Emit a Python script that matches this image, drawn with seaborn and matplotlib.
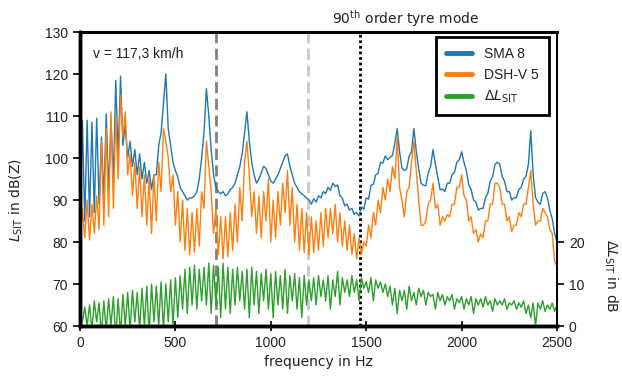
import numpy as np
import pandas as pd
import seaborn as sns
import matplotlib.pyplot as plt
from matplotlib.lines import Line2D

sns.set_style("ticks", {"axes.edgecolor": "black"})
plt.rcParams['font.family'] = ['Liberation Sans', 'DejaVu Sans']
plt.rcParams['mathtext.fontset'] = 'dejavusans'

# spectrum sampled every 12.5 Hz, 0 ... 2500 Hz (one row = 100 Hz)
freq_step = 12.5

sma8 = [
    84, 109, 85, 109, 86, 108.5, 87, 109.5,
    89, 105, 90, 110.5, 92, 109, 95, 118.5,
    100, 119.5, 103, 108, 100, 104, 98, 102,
    96, 101, 95, 99, 94, 97, 92.5, 96,
    96, 103, 106, 113, 120, 107, 103, 99,
    97, 95.5, 93, 92, 91, 90, 90.5, 90.5,
    91, 92, 95, 100, 106, 116.5, 110, 102,
    96, 93, 92, 91.5, 92, 91, 91.5, 92.5,
    93, 94, 96, 98, 101, 106, 111, 104,
    99, 96, 94, 95, 96.5, 98, 97.5, 96,
    94.5, 94, 95, 96, 97.5, 99, 100.5, 101,
    98, 96, 94, 93, 92, 91.5, 91, 90.5,
    90, 89, 90.3, 89.5, 91, 90.5, 92, 91.5,
    93, 92.3, 94, 93.2, 93.6, 91, 90.4, 88.6,
    89, 87.6, 88, 86.6, 87, 86.2, 88.4, 87.8,
    90.5, 90.2, 93.5, 93.8, 96, 96.4, 99, 98.8,
    100.5, 99.6, 100.2, 100.6, 103.5, 107, 101.5, 97.6,
    97, 97.4, 100.5, 101.5, 107, 101.6, 97.5, 94,
    93.5, 93.4, 96.5, 98, 102, 98.6, 95.5, 92.4,
    92.6, 92, 94, 94, 96, 96.6, 99, 99.6,
    101.5, 99, 97, 93.6, 92.5, 90, 89.5, 87.6,
    88, 88, 90.5, 91.6, 94.5, 95.6, 98.5, 99,
    98.5, 95.6, 94.5, 92, 92, 90, 90.5, 90.6,
    92.5, 93, 95, 95.6, 98.5, 106.5, 96, 90.6,
    89.5, 89, 91.5, 92, 90.5, 87.6, 85.5, 82,
    80,
]

dshv5 = [
    80, 88, 81, 90, 80.5, 89, 82, 91,
    83, 104, 84, 107, 86, 111, 88, 110,
    95, 115, 105, 111, 96, 101, 91, 99,
    88, 98, 86, 96, 84, 95, 82, 96,
    85, 99, 92, 107, 104, 100, 92, 96,
    84, 92, 80, 90, 78, 88, 77, 87,
    77.5, 88, 79, 92, 88, 104, 98, 92,
    82, 88, 77, 86, 76, 86, 76.5, 87,
    78, 89, 80, 93, 85, 99, 104, 96,
    86, 92, 82, 91, 81, 92, 85, 95,
    80, 90, 81, 92, 84, 94, 87, 97,
    84, 93, 80, 89, 78, 88, 77.5, 87,
    77, 86, 77.5, 85, 78, 87, 79, 88,
    81, 88, 82, 89, 80, 87, 79, 85,
    78, 84, 77, 82, 76, 81, 77, 80,
    79, 84, 81, 87, 84, 90, 87, 93,
    90, 95, 92, 98, 95, 105, 93, 90,
    86, 92, 93, 99, 104, 97, 90, 84,
    84, 85, 89, 90, 94, 88, 89, 84,
    86, 85, 86.5, 86, 89, 89, 93, 93,
    96, 91, 90, 85, 86, 82, 83, 80,
    82, 81, 85, 85, 89, 89, 94, 94,
    93, 89, 89, 85, 86, 82.5, 84, 84,
    87, 86, 89, 89, 93, 97, 89, 84,
    85, 85, 88, 87, 86, 83, 82, 75.5,
    74,
]

delta_sit = [
    3.5, 1, 4.5, 0, 5, -1, 6, 1,
    5.5, -2, 6, -1, 6.5, 0, 7, -3,
    6.5, -2, 7.5, 0, 8, -1, 8.5, 1,
    8, -1, 9, 0, 9.5, -2, 10, 1,
    9.5, 0, 10.5, -1, 10, 1, 11, 0,
    11.5, 2, 12, 4, 13.5, 3, 14, 5,
    14.5, 4, 13.5, 6, 14, 5, 15, 3,
    14.5, 5, 14, 2, 15, 4, 14, 3,
    13.5, 5, 14, 6, 13, 4, 13.5, 2,
    14, 5, 13, 3, 12.5, 6, 13.5, 4,
    12.5, 2, 13, 5, 12, 4, 13.5, 3,
    12, 6, 12.5, 4, 11.5, 2, 12, 5,
    11, 6, 11.5, 5, 12, 7, 11, 6,
    12, 4, 11, 7, 13, 5, 11.5, 8,
    11, 7, 12, 8, 11, 6, 11.5, 9,
    10.5, 8, 11.5, 6, 11, 9, 10.5, 8,
    10, 7, 9.5, 5, 9, 3, 8.5, 6,
    8.5, 4, 9.5, 6, 8, 5, 9, 7,
    8.5, 5, 8, 7, 7.5, 4, 8, 6,
    7.5, 5, 7, 6, 7.5, 4, 6.5, 5.5,
    7, 4, 6.5, 5, 7, 3, 6.5, 5,
    6.5, 4.5, 7, 5, 6, 3.5, 6.5, 5,
    6, 5, 6.5, 4, 5.5, 5, 6, 4,
    5.5, 4.5, 6, 3, 5, 2, 5.5, 0,
    5.5, 4, 6, 3.5, 5, 4, 5.5, 3.5,
    5,
]

freq = np.arange(len(sma8)) * freq_step
df = pd.DataFrame({"freq": freq, "SMA 8": sma8, "DSH-V 5": dshv5, "dL": delta_sit})

c_blue, c_orange, c_green = "#1f77b4", "#ff7f0e", "#2ca02c"

fig, ax = plt.subplots(figsize=(6.22, 3.83), dpi=100)
fig.subplots_adjust(left=0.1286, right=0.8955, top=0.9164, bottom=0.1488)
ax2 = ax.twinx()

sns.lineplot(data=df, x="freq", y="SMA 8", ax=ax, color=c_blue, lw=1.0, estimator=None)
sns.lineplot(data=df, x="freq", y="DSH-V 5", ax=ax, color=c_orange, lw=1.0, estimator=None)
sns.lineplot(data=df, x="freq", y="dL", ax=ax2, color=c_green, lw=1.0, estimator=None)

# mode markers
ax.axvline(713, color="#808080", lw=2, ls=(0, (4, 2)), zorder=0)
ax.axvline(1195, color="#c8c8c8", lw=2, ls=(0, (4, 2)), zorder=0)
ax.axvline(1465, color="black", lw=2, ls=(0, (1, 1)), zorder=0)

ax.set_xlim(0, 2500)
ax.set_ylim(60, 130)
ax.set_yticks(range(60, 131, 10))
ax.set_xticks([0, 500, 1000, 1500, 2000, 2500])
ax2.set_ylim(0, 70)
ax2.set_yticks([0, 10, 20])

ax.set_xlabel("frequency in Hz", family="DejaVu Sans", fontsize=10, color="#222222")
ax.set_ylabel(r"$L_{\rm SIT}$ in dB(Z)", family="DejaVu Sans", fontsize=10, color="#222222")
ax.yaxis.set_label_coords(-0.115, 0.43)
ax2.set_ylabel(r"$\Delta L_{\rm SIT}$ in dB", family="DejaVu Sans", fontsize=10,
               rotation=270, va="bottom", color="#222222")
ax2.yaxis.set_label_coords(1.095, 0.17)

for a in (ax, ax2):
    a.tick_params(labelsize=10, length=5, width=1.2, color="black", labelcolor="#222222")
    for s in ("left", "bottom"):
        a.spines[s].set_linewidth(2.5)
    a.spines["top"].set_linewidth(2)
    a.spines["right"].set_linewidth(1.2)
    a.spines["right"].set_visible(True)
    a.spines["top"].set_visible(True)
ax.tick_params(axis="x", direction="inout", length=7)

ax.text(0.027, 0.91, "v = 117,3 km/h", transform=ax.transAxes, fontsize=10, color="#222222")
ax.text(1321, 1.045, r"90$^{\rm th}$ order tyre mode", transform=ax.get_xaxis_transform(),
        family="DejaVu Sans", fontsize=10, va="center", color="#222222")

handles = [Line2D([], [], color=c_blue, lw=3.5),
           Line2D([], [], color=c_orange, lw=3.5),
           Line2D([], [], color=c_green, lw=3.5)]
leg = ax2.legend(handles, ["SMA 8", "DSH-V 5", r"$\Delta L_{\rm SIT}$"],
                 loc="upper right", bbox_to_anchor=(0.983, 0.983), borderaxespad=0,
                 fancybox=False, framealpha=1, edgecolor="black", fontsize=10,
                 handlelength=1.9, handletextpad=0.9, labelspacing=0.5, borderpad=0.7)
leg.get_frame().set_linewidth(2)
for t in leg.get_texts():
    t.set_color("#222222")

plt.savefig("out.png", dpi=100)
